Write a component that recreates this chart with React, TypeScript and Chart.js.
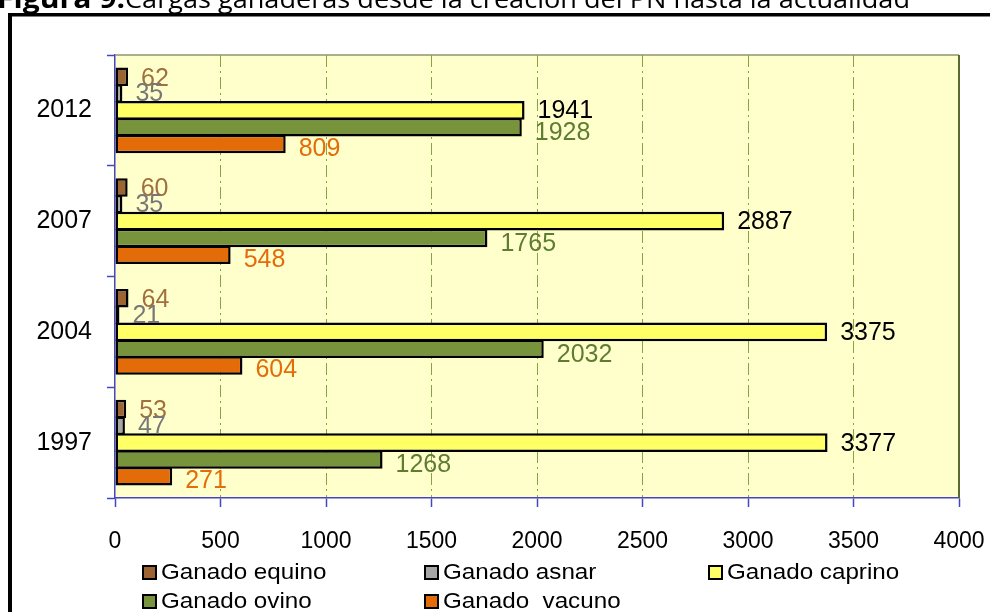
import React, { useEffect, useRef } from "react";
import { Chart, registerables } from "chart.js";

Chart.register(...registerables);

// ---- data ----
const years = ["2012", "2007", "2004", "1997"];
const equino = [62, 60, 64, 53];
const asnar = [35, 35, 21, 47];
const caprino = [1941, 2887, 3375, 3377];
const ovino = [1928, 1765, 2032, 1268];
const vacuno = [809, 548, 604, 271];
const seriesNames = [
  "Ganado equino",
  "Ganado asnar",
  "Ganado caprino",
  "Ganado ovino",
  "Ganado  vacuno",
];
const xMin = 0;
const xMax = 4000;
const xStep = 500;
const titleBold = "Figura 9.";
const titleRest = "Cargas ganaderas desde la creación del PN hasta la actualidad";

// ---- styles ----
const barColors = ["#9C6432", "#A6A6A6", "#FFFF66", "#77933C", "#E36C09"];
const labelColors = ["#A0703E", "#777777", "#000000", "#5F7D32", "#E46C0A"];
const labelDy = [2, 1, 1, 6, 5];
const AXIS_BLUE = "#4545C2";
const GRID_GREEN = "#86A34A";
const FONT = "'Liberation Sans', Arial, sans-serif";

const W = 990;
const H = 612;

const backgroundPlugin = {
  id: "bgFrame",
  beforeDraw(chart: any) {
    const ctx = chart.ctx as CanvasRenderingContext2D;
    ctx.save();
    ctx.fillStyle = "#ffffff";
    ctx.fillRect(0, 0, chart.width, chart.height);
    // title (cut at top as in the reference)
    ctx.fillStyle = "#000";
    ctx.textBaseline = "alphabetic";
    ctx.font = "26px 'Open Sans', sans-serif";
    const w = ctx.measureText(titleRest).width;
    const sx = 785 / w;
    ctx.save();
    ctx.translate(125, 8);
    ctx.scale(sx, 1);
    ctx.textAlign = "left";
    ctx.fillText(titleRest, 0, 0);
    ctx.restore();
    ctx.save();
    ctx.font = "bold 26px 'Open Sans', sans-serif";
    const wb = ctx.measureText(titleBold).width;
    ctx.translate(125, 8);
    ctx.scale(128 / wb, 1);
    ctx.textAlign = "right";
    ctx.fillText(titleBold, 0, 0);
    ctx.restore();
    // outer frame
    ctx.fillStyle = "#000";
    ctx.fillRect(8, 13, 4, chart.height - 13);
    ctx.fillRect(8, 13, chart.width - 8, 3.5);
    // plot background
    const a = chart.chartArea;
    ctx.fillStyle = "#FFFFCC";
    ctx.fillRect(a.left, a.top, a.right - a.left, a.bottom - a.top);
    ctx.restore();
  },
};

const overlayPlugin = {
  id: "overlay",
  afterDatasetsDraw(chart: any) {
    const ctx = chart.ctx as CanvasRenderingContext2D;
    const a = chart.chartArea;
    ctx.save();
    // top / right plot border
    ctx.strokeStyle = "#8C9670";
    ctx.lineWidth = 1.5;
    ctx.beginPath();
    ctx.moveTo(a.left, a.top);
    ctx.lineTo(a.right, a.top);
    ctx.stroke();
    ctx.strokeStyle = "#5A6B2E";
    ctx.lineWidth = 2;
    ctx.beginPath();
    ctx.moveTo(a.right, a.top);
    ctx.lineTo(a.right, a.bottom);
    ctx.stroke();
    // data labels
    ctx.font = `25px ${FONT}`;
    ctx.textAlign = "left";
    ctx.textBaseline = "middle";
    chart.data.datasets.forEach((ds: any, i: number) => {
      const meta = chart.getDatasetMeta(i);
      meta.data.forEach((el: any, j: number) => {
        ctx.fillStyle = labelColors[i];
        ctx.fillText(String(ds.data[j]), el.x + 13, el.y + labelDy[i]);
      });
    });
    ctx.restore();
  },
  afterDraw(chart: any) {
    const ctx = chart.ctx as CanvasRenderingContext2D;
    const cols = [142, 424, 708];
    const rows = [572, 601];
    ctx.save();
    ctx.textAlign = "left";
    ctx.textBaseline = "middle";
    ctx.font = `22px ${FONT}`;
    chart.data.datasets.forEach((ds: any, i: number) => {
      const x = cols[i % 3];
      const y = rows[Math.floor(i / 3)];
      ctx.fillStyle = "#000";
      ctx.fillRect(x, y - 7, 15, 15);
      ctx.fillStyle = ds.backgroundColor;
      ctx.fillRect(x + 2, y - 5, 11, 11);
      ctx.save();
      ctx.translate(x + 19, y + 1);
      ctx.scale(1.1, 1);
      ctx.fillStyle = "#000";
      ctx.fillText(ds.label, 0, 0);
      ctx.restore();
    });
    ctx.restore();
  },
};

export default function App() {
  const ref = useRef<HTMLCanvasElement | null>(null);

  useEffect(() => {
    if (!ref.current) return;
    const series = [equino, asnar, caprino, ovino, vacuno];
    const chart = new Chart(ref.current, {
      type: "bar",
      data: {
        labels: years,
        datasets: series.map((d, i) => ({
          label: seriesNames[i],
          data: d,
          backgroundColor: barColors[i],
          borderColor: "#000000",
          borderWidth: 2.5,
          borderSkipped: false,
          categoryPercentage: 0.76,
          barPercentage: 1.1,
        })),
      },
      options: {
        indexAxis: "y",
        animation: false,
        responsive: false,
        devicePixelRatio: 1,
        layout: { padding: { top: 55, right: 31, left: 0, bottom: 0 } },
        plugins: {
          legend: { display: false },
          tooltip: { enabled: false },
          title: { display: false },
        },
        scales: {
          x: {
            min: xMin,
            max: xMax,
            ticks: {
              stepSize: xStep,
              color: "#000",
              font: { family: FONT, size: 23 },
              padding: 21,
              maxRotation: 0,
              callback: (v: any) => String(v),
            },
            grid: {
              color: (c: any) =>
                c.tick && (c.tick.value === xMin || c.tick.value === xMax)
                  ? "rgba(0,0,0,0)"
                  : GRID_GREEN,
              lineWidth: 1,
              tickColor: AXIS_BLUE,
              tickLength: 9,
              tickWidth: 1.5,
            },
            border: { color: AXIS_BLUE, width: 1.5, dash: [12, 4, 2, 4] },
            afterFit: (s: any) => {
              s.height = 114;
              s.paddingLeft = 0;
              s.paddingRight = 0;
            },
          },
          y: {
            ticks: {
              color: "#000",
              font: { family: FONT, size: 25 },
              padding: 15,
            },
            grid: {
              drawOnChartArea: false,
              offset: true,
              tickColor: AXIS_BLUE,
              tickLength: 8,
              tickWidth: 1.5,
            },
            border: { color: AXIS_BLUE, width: 1.5 },
            afterFit: (s: any) => {
              s.width = 115;
              s.paddingTop = 0;
              s.paddingBottom = 0;
            },
          },
        },
      } as any,
      plugins: [backgroundPlugin, overlayPlugin],
    });
    return () => chart.destroy();
  }, []);

  return (
    <div style={{ position: "absolute", left: 0, top: 0, width: W, height: H, overflow: "hidden" }}>
      <canvas ref={ref} width={W} height={H} style={{ display: "block", width: W, height: H }} />
    </div>
  );
}
